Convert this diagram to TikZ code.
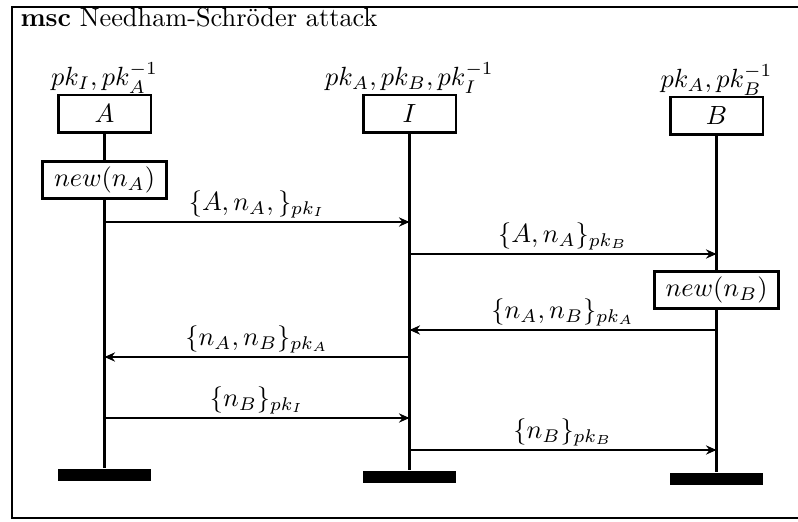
\documentclass[tikz,border=0pt]{standalone}
\usetikzlibrary{arrows.meta,positioning}
\tikzset{
  msc/frame/.style={draw=black, line width=1pt},
  msc/title/.style={anchor=base west, inner sep=0pt},
  msc/head/.style={
    draw=black,
    line width=1.1pt,
    fill=white,
    minimum width=35.3pt,
    minimum height=14.4pt,
    inner sep=2pt
  },
  msc/action/.style={
    draw=black,
    line width=0.9pt,
    fill=white,
    minimum width=47pt,
    minimum height=13.7pt,
    inner sep=2pt
  },
  msc/stop/.style={fill=black, minimum width=35.3pt, minimum height=4.9pt, inner sep=0pt},
  msc/keys/.style={inner sep=1pt},
  msc/life/.style={line width=1pt},
  msc/msg/.style={-{Stealth[length=4pt,width=3.5pt]}, line width=0.7pt},
  msc/msglabel/.style={above, inner sep=1.2pt}
}

\begin{document}
\begin{tikzpicture}[x=0.38pt,y=-0.38pt]
  \useasboundingbox (0,0) rectangle (798,522);
  \draw[msc/frame] (798,7) -- (12,7) -- (12,518) -- (798,518);
  \node[msc/title] (title) at (20,27) {\textbf{msc} Needham-Schröder attack};

  % instances
  \node[msc/head] (A) at (104.5,114) {$A$};
  \node[msc/head] (I) at (409.5,114) {$I$};
  \node[msc/head] (B) at (716.5,116) {$B$};
  \node[msc/keys, above=-1pt of A] (kA) {$pk_I,pk_A^{-1}$};
  \node[msc/keys, above=-1pt of I] (kI) {$pk_A,pk_B,pk_I^{-1}$};
  \node[msc/keys, above=-1pt of B] (kB) {$pk_A,pk_B^{-1}$};

  \node[msc/stop] (endA) at (104.5,475) {};
  \node[msc/stop] (endI) at (409.5,477) {};
  \node[msc/stop] (endB) at (716.5,479) {};

  \draw[msc/life] (A) -- (endA);
  \draw[msc/life] (I) -- (endI);
  \draw[msc/life] (B) -- (endB);

  % actions
  \node[msc/action] (newA) at (104.5,180) {$new(n_A)$};
  \node[msc/action] (newB) at (716.5,290) {$new(n_B)$};

  % messages
  \coordinate (y1) at (0,222);
  \coordinate (y2) at (0,254);
  \coordinate (y3) at (0,330);
  \coordinate (y4) at (0,357);
  \coordinate (y5) at (0,418);
  \coordinate (y6) at (0,450);
  \draw[msc/msg] (A |- y1) -- (I |- y1) node[msc/msglabel, midway] {$\{A,n_A,\}_{pk_I}$};
  \draw[msc/msg] (I |- y2) -- (B |- y2) node[msc/msglabel, midway] {$\{A,n_A\}_{pk_B}$};
  \draw[msc/msg] (B |- y3) -- (I |- y3) node[msc/msglabel, midway] {$\{n_A,n_B\}_{pk_A}$};
  \draw[msc/msg] (I |- y4) -- (A |- y4) node[msc/msglabel, midway] {$\{n_A,n_B\}_{pk_A}$};
  \draw[msc/msg] (A |- y5) -- (I |- y5) node[msc/msglabel, midway] {$\{n_B\}_{pk_I}$};
  \draw[msc/msg] (I |- y6) -- (B |- y6) node[msc/msglabel, midway] {$\{n_B\}_{pk_B}$};
\end{tikzpicture}
\end{document}
